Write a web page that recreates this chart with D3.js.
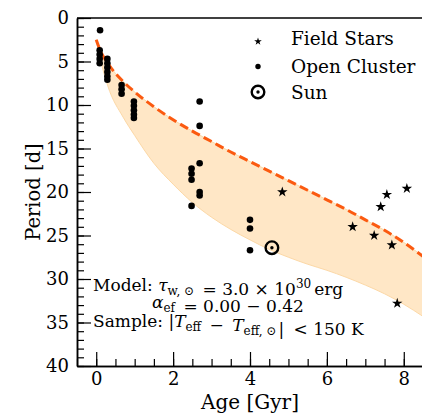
<!DOCTYPE html>
<html>
<head>
<meta charset="utf-8">
<script src="https://cdn.jsdelivr.net/npm/d3@7"></script>
<style>
  body { margin: 0; background: #fff; }
  svg text { font-family: "DejaVu Serif", serif; fill: #000; }
</style>
</head>
<body>
<div id="chart"></div>
<script>
// open cluster members (age in Gyr, period in days)
var clusterAge = [0.10, 0.09, 0.09, 0.09, 0.09, 0.29, 0.29, 0.29, 0.29, 0.29, 0.29,
  0.66, 0.66, 0.66, 0.98, 0.98, 0.98, 0.98, 0.98,
  2.69, 2.69, 2.69, 2.48, 2.48, 2.48, 2.69, 2.69, 2.48, 4.0, 4.0, 4.0];
var clusterPeriod = [1.4, 3.7, 4.2, 4.7, 5.2, 4.7, 5.2, 5.7, 6.2, 6.7, 7.1,
  7.7, 8.2, 8.7, 9.6, 10.1, 10.6, 11.1, 11.5,
  9.6, 12.4, 16.7, 17.3, 17.9, 18.6, 20.0, 20.4, 21.6, 23.2, 24.2, 26.7];
// field stars
var fieldAge = [4.84, 6.67, 7.23, 7.69, 7.40, 7.56, 8.08, 7.83];
var fieldPeriod = [20.0, 24.0, 25.0, 26.1, 21.7, 20.3, 19.6, 32.8];
// the Sun
var sunAge = [4.57];
var sunPeriod = [26.4];
// model band: dashed upper edge and lower edge
var modelAge = [0, 0.1, 0.3, 0.7, 1.0, 1.5, 2.0, 2.5, 3.0, 3.5, 4.0, 4.5, 5.0, 5.5, 6.0, 6.5, 7.0, 7.5, 8.0, 8.5];
var modelUpper = [2.5, 3.7, 5.2, 7.3, 8.5, 10.2, 11.7, 13.0, 14.2, 15.4, 16.5, 17.6, 18.7, 19.8, 20.9, 22.0, 23.2, 24.4, 25.8, 27.4];
var modelLower = [2.5, 4.6, 7.8, 11.4, 13.5, 16.7, 19.1, 21.2, 22.9, 24.3, 25.5, 26.6, 27.5, 28.3, 29.0, 29.8, 30.7, 31.7, 32.9, 34.3];
// ticks
var xTicks = [0, 2, 4, 6, 8];
var yTicks = [0, 5, 10, 15, 20, 25, 30, 35, 40];

var W = 422, H = 414;
var margin = { top: 18, right: -1, bottom: 48, left: 77 };

var svg = d3.select("#chart").append("svg").attr("width", W).attr("height", H);

var x = d3.scaleLinear().domain([-0.5, 8.5]).range([margin.left, W - margin.right]);
var y = d3.scaleLinear().domain([0, 40]).range([margin.top, H - margin.bottom]);

svg.append("clipPath").attr("id", "plotclip").append("rect")
  .attr("x", x(-0.5)).attr("y", y(0)).attr("width", x(8.5) - x(-0.5)).attr("height", y(40) - y(0));

var plot = svg.append("g").attr("clip-path", "url(#plotclip)");

// shaded band
var band = d3.area()
  .x(function(d, i) { return x(modelAge[i]); })
  .y0(function(d, i) { return y(modelUpper[i]); })
  .y1(function(d, i) { return y(modelLower[i]); })
  .curve(d3.curveMonotoneX);
plot.append("path").datum(modelAge).attr("d", band)
  .attr("fill", "#ffe7c6").attr("stroke", "#fcd8a6").attr("stroke-width", 1);

// dashed model
var line = d3.line()
  .x(function(d, i) { return x(modelAge[i]); })
  .y(function(d, i) { return y(modelUpper[i]); })
  .curve(d3.curveMonotoneX);
plot.append("path").datum(modelAge).attr("d", line)
  .attr("fill", "none").attr("stroke", "#fb5a10").attr("stroke-width", 3)
  .attr("stroke-dasharray", "9,4.5");

// axes, ticks pointing inward
function styleAxis(g) {
  g.selectAll("text").style("font-family", "DejaVu Serif").style("font-size", "18px");
  g.selectAll("line").attr("stroke", "#000").attr("stroke-width", 1.2);
  g.select(".domain").attr("stroke", "#000").attr("stroke-width", 1.5);
}

var yMinor = d3.range(0, 41, 1);
var xMinor = d3.range(-0.5, 8.6, 0.5);

svg.append("g").attr("transform", "translate(" + x(-0.5) + ",0)")
  .call(d3.axisLeft(y).tickValues(yMinor).tickSize(-7).tickSizeOuter(0).tickFormat(""))
  .call(styleAxis);
svg.append("g").attr("transform", "translate(" + x(-0.5) + ",0)")
  .call(d3.axisLeft(y).tickValues(yTicks).tickSize(-14).tickSizeOuter(0).tickPadding(8))
  .call(styleAxis);

svg.append("g").attr("transform", "translate(0," + y(40) + ")")
  .call(d3.axisBottom(x).tickValues(xMinor).tickSize(-7).tickSizeOuter(0).tickFormat(""))
  .call(styleAxis);
svg.append("g").attr("transform", "translate(0," + y(40) + ")")
  .call(d3.axisBottom(x).tickValues(xTicks).tickSize(-14).tickSizeOuter(0).tickPadding(6))
  .call(styleAxis);

svg.append("line").attr("x1", x(-0.5)).attr("x2", W).attr("y1", y(0)).attr("y2", y(0))
  .attr("stroke", "#000").attr("stroke-width", 1.5);

// axis labels
svg.append("text").attr("x", (x(-0.5) + x(8.5)) / 2).attr("y", 409)
  .attr("text-anchor", "middle").style("font-size", "20px").text("Age [Gyr]");
svg.append("text").attr("transform", "translate(40," + ((y(0) + y(40)) / 2) + ") rotate(-90)")
  .attr("text-anchor", "middle").style("font-size", "19.5px").text("Period [d]");

// markers
var star = d3.symbol().type(d3.symbolStar);

plot.selectAll("circle.oc").data(clusterAge).enter().append("circle").attr("class", "oc")
  .attr("cx", function(d) { return x(d); })
  .attr("cy", function(d, i) { return y(clusterPeriod[i]); })
  .attr("r", 3.3).attr("fill", "#000");

plot.selectAll("path.fs").data(fieldAge).enter().append("path").attr("class", "fs")
  .attr("d", star.size(34))
  .attr("transform", function(d, i) { return "translate(" + x(d) + "," + y(fieldPeriod[i]) + ")"; })
  .attr("fill", "#000");

function sun(g, cx, cy) {
  g.append("circle").attr("cx", cx).attr("cy", cy).attr("r", 6.3)
    .attr("fill", "none").attr("stroke", "#000").attr("stroke-width", 2.4);
  g.append("circle").attr("cx", cx).attr("cy", cy).attr("r", 1.7).attr("fill", "#000");
}
sunAge.forEach(function(a, i) { sun(plot, x(a), y(sunPeriod[i])); });

// legend
var leg = svg.append("g");
leg.append("path").attr("d", star.size(18)).attr("transform", "translate(258,41.5)").attr("fill", "#000");
leg.append("circle").attr("cx", 258).attr("cy", 66.5).attr("r", 2.7).attr("fill", "#000");
sun(leg, 258, 92);
[["Field Stars", 45], ["Open Cluster", 72.5], ["Sun", 98.5]].forEach(function(e) {
  leg.append("text").attr("x", 291).attr("y", e[1]).style("font-size", "18.5px").text(e[0]);
});

// annotation
var ann = svg.append("g").style("font-size", "17px");
function sub(t, s) {
  t.append("tspan").attr("dy", 4).style("font-size", "12px").text(s);
  t.append("tspan").attr("dy", -4).text("");
}
var t1 = ann.append("text").attr("x", 93).attr("y", 291);
t1.append("tspan").text("Model: ");
t1.append("tspan").style("font-style", "italic").text("τ");
sub(t1, "w, ⊙");
t1.append("tspan").attr("dx", 3).text(" = 3.0 × 10");
t1.append("tspan").attr("dy", -7).style("font-size", "12px").text("30");
t1.append("tspan").attr("dy", 7).attr("dx", 3).text("erg");

var t2 = ann.append("text").attr("x", 152).attr("y", 308);
t2.append("tspan").style("font-style", "italic").text("α");
sub(t2, "ef");
t2.append("tspan").attr("dx", 3).text(" = 0.00 − 0.42");

var t3 = ann.append("text").attr("x", 93).attr("y", 327);
t3.append("tspan").text("Sample: |");
t3.append("tspan").style("font-style", "italic").text("T");
sub(t3, "eff");
t3.append("tspan").attr("dx", 3).text(" − ");
t3.append("tspan").attr("dx", 3).style("font-style", "italic").text("T");
sub(t3, "eff, ⊙");
t3.append("tspan").attr("dx", 2).text("| ");
t3.append("tspan").attr("dx", 4).text("< 150 K");
</script>
</body>
</html>
